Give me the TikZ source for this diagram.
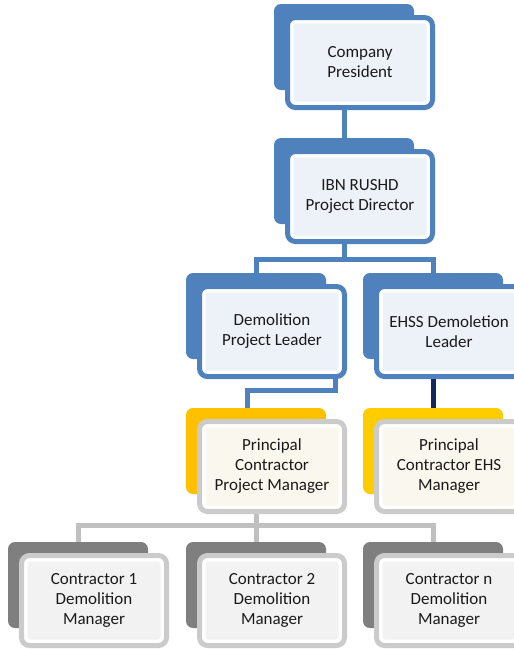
\documentclass[tikz,border=0pt]{standalone}
\usepackage{fontspec}
\setmainfont{Carlito}
\definecolor{ablue}{HTML}{4F81BD}
\definecolor{ainner}{HTML}{EDF1F8}
\definecolor{yelA}{HTML}{FFC000}
\definecolor{yelB}{HTML}{FFCC00}
\definecolor{cream}{HTML}{FAF8EE}
\definecolor{gback}{HTML}{7F7F7F}
\definecolor{gborder}{HTML}{CBCBCB}
\definecolor{ginner}{HTML}{F2F2F2}
\definecolor{gline}{HTML}{C0C0C0}
\definecolor{navy}{HTML}{102A5C}
\definecolor{txt}{HTML}{1A1A1A}
\begin{document}
\begin{tikzpicture}[x=1pt,y=-1pt,
  backbox/.style={rounded corners=7pt, inner sep=0pt, minimum width=140pt, minimum height=86pt, fill=#1},
  frontbox/.style n args={2}{rounded corners=8pt, inner sep=0pt, minimum width=145pt, minimum height=90pt,
     draw=#1, line width=5pt, fill=white, align=center, text=txt,
     font=\fontsize{17pt}{20pt}\selectfont,
     path picture={\fill[#2, rounded corners=3pt] ([shift={(6,-6)}]path picture bounding box.south west) rectangle ([shift={(-6,6)}]path picture bounding box.north east);}},
  bluefront/.style={frontbox={ablue}{ainner}},
  yelfront/.style={frontbox={gborder}{cream}},
  grayfront/.style={frontbox={gborder}{ginner}},
  link/.style={line width=5pt, draw=#1}
]
\useasboundingbox (0,0) rectangle (514,649);
% back boxes
\node[backbox=ablue] (b1) at (344,47) {};
\node[backbox=ablue] (b2) at (344,181) {};
\node[backbox=ablue] (b3l) at (256,316) {};
\node[backbox=ablue] (b3r) at (433,316) {};
\node[backbox=yelA] (b4l) at (256,451) {};
\node[backbox=yelB] (b4r) at (433,451) {};
\node[backbox=gback] (b5a) at (78,585) {};
\node[backbox=gback] (b5b) at (256,585) {};
\node[backbox=gback] (b5c) at (433,585) {};
% connectors
\coordinate (h2) at (0,259);
\coordinate (h3) at (0,390);
\coordinate (h4) at (0,525);
\draw[link=ablue] (b1.south) -- (b2.north);
\draw[link=ablue, line join=miter] (b2.south) -- (b2.south |- h2);
\draw[link=ablue, line join=miter] (b3l.north) -- (b3l.north |- h2) -- (b3r.north |- h2) -- (b3r.north);
\draw[link=navy] (b3r.south) -- (b4r.north);
\draw[link=gline] (b4l.south) -- (b4l.south |- h4);
\draw[link=gline, line join=miter] (b5a.north) -- (b5a.north |- h4) -- (b5c.north |- h4) -- (b5c.north);
\draw[link=gline] (b5b.north) -- (b5b.north |- h4);
% front boxes
\node[bluefront] (f1) at (360,62.5) {Company\\President};
\node[bluefront] (f2) at (360,196.5) {IBN RUSHD\\Project Director};
\node[bluefront] (f3l) at (272,331.5) {Demolition\\Project Leader};
\node[bluefront] (f3r) at (449,331.5) {EHSS Demoletion\\Leader};
\coordinate (c3) at ([xshift=63pt]f3l.south);
\coordinate (c4) at (247,408);
\draw[link=ablue, line join=miter] (c3) -- (c3 |- h3) -- (c4 |- h3) -- (c4);
\draw[link=navy] (f3r.south -| b3r) -- (b4r.north);
\node[yelfront] (f4l) at (272,466.5) {Principal\\Contractor\\Project Manager};
\node[yelfront] (f4r) at (449,466.5) {Principal\\Contractor EHS\\Manager};
\node[grayfront] (f5a) at (94,600.5) {Contractor 1\\Demolition\\Manager};
\node[grayfront] (f5b) at (272,600.5) {Contractor 2\\Demolition\\Manager};
\node[grayfront] (f5c) at (449,600.5) {Contractor n\\Demolition\\Manager};
\end{tikzpicture}
\end{document}
